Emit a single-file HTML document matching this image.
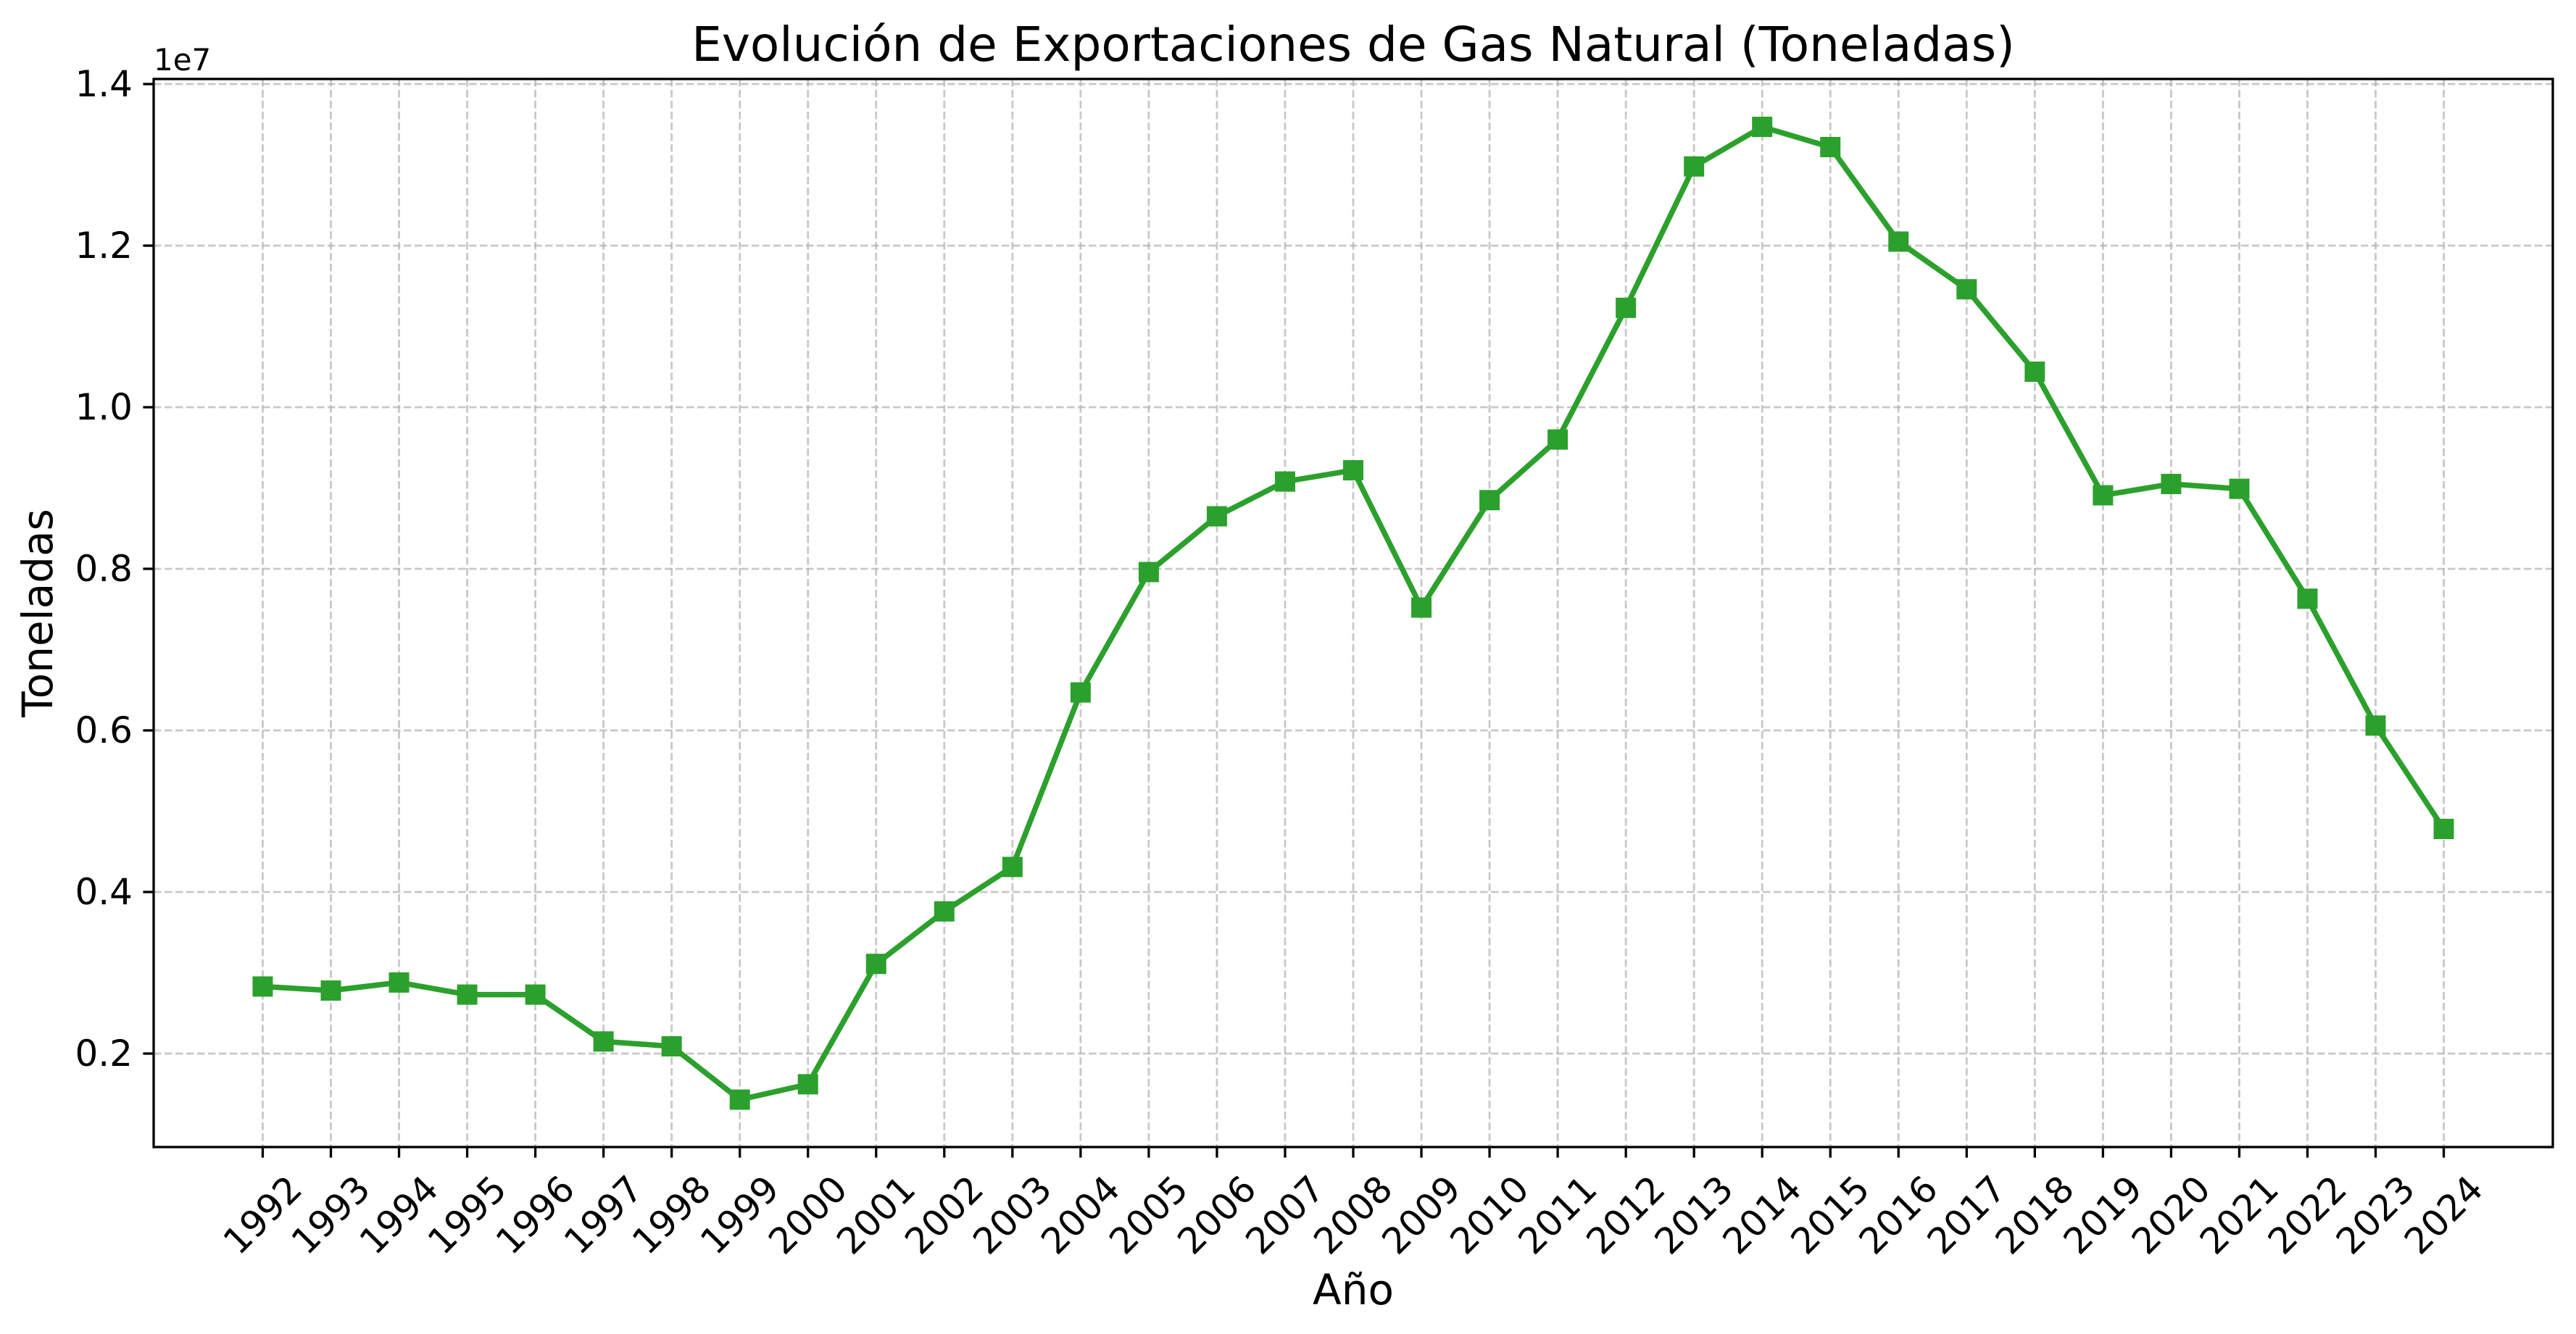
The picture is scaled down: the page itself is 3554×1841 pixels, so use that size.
<!DOCTYPE html>
<html><head><meta charset="utf-8"><style>
html,body{margin:0;padding:0;background:#fff;}
svg{display:block;font-family:"DejaVu Sans","Liberation Sans",sans-serif;}
</style></head><body>
<svg id="chart" width="3554" height="1841" viewBox="0 0 3554 1841" xmlns="http://www.w3.org/2000/svg">
<rect width="3554" height="1841" fill="#fff"/>
<g id="grid"></g>
<g id="series"></g>
<rect x="212" y="109" width="3310" height="1474" fill="none" stroke="#000" stroke-width="3.3"/>
<g id="ticks"></g>
<text x="1867" y="84" font-size="66" text-anchor="middle">Evolución de Exportaciones de Gas Natural (Toneladas)</text>
<text x="1867" y="1800" font-size="58" text-anchor="middle">Año</text>
<text transform="translate(72,846) rotate(-90)" font-size="58" text-anchor="middle">Toneladas</text>
<text x="212" y="97" font-size="42">1e7</text>
</svg>
<script>
const years = [1992,1993,1994,1995,1996,1997,1998,1999,2000,2001,2002,2003,2004,2005,2006,2007,2008,2009,2010,2011,2012,2013,2014,2015,2016,2017,2018,2019,2020,2021,2022,2023,2024];
const exports = [2.83,2.78,2.88,2.73,2.73,2.15,2.09,1.43,1.62,3.11,3.76,4.31,6.47,7.96,8.65,9.08,9.22,7.52,8.85,9.60,11.23,12.98,13.47,13.22,12.05,11.46,10.44,8.91,9.05,8.99,7.63,6.06,4.78];
const yTicks = [0.2,0.4,0.6,0.8,1.0,1.2,1.4];
const yTickLabels = ["0.2","0.4","0.6","0.8","1.0","1.2","1.4"];

const NS="http://www.w3.org/2000/svg";
const L=212,R=3522,T=109,B=1583;
const x0=years[0]-1.6, x1=years[years.length-1]+1.6;
function sx(v){return L+(v-x0)/(x1-x0)*(R-L);}
function sy(m){return 1454-(m-2)*111.5;}
function el(tag,attrs,parent){const e=document.createElementNS(NS,tag);for(const k in attrs)e.setAttribute(k,attrs[k]);parent.appendChild(e);return e;}
const grid=document.getElementById('grid'),ticks=document.getElementById('ticks'),series=document.getElementById('series');
const gs={stroke:'#b0b0b0','stroke-opacity':'0.7','stroke-width':'2.8','stroke-dasharray':'10.5,4.5'};
years.forEach((yr)=>{
  const x=sx(yr);
  const g=el('line',Object.assign({x1:x,x2:x,y1:T,y2:B},gs),grid);
  
  
  const t=el('line',{x1:x,x2:x,y1:B,y2:B+14.6,stroke:'#000','stroke-width':3.3},ticks);
  
  
  const lb=el('text',{transform:`translate(${x},1677) rotate(-45)`,'font-size':50,'text-anchor':'middle','dominant-baseline':'central'},ticks);
  lb.textContent=yr;
  
  
});
yTicks.forEach((v,i)=>{
  const y=sy(v*10);
  const g=el('line',Object.assign({x1:L,x2:R,y1:y,y2:y},gs),grid);
  
  
  const t=el('line',{x1:L-14.6,x2:L,y1:y,y2:y,stroke:'#000','stroke-width':3.3},ticks);
  
  
  const lb=el('text',{x:L-29,y:y,'font-size':50,'text-anchor':'end','dominant-baseline':'central'},ticks);
  lb.textContent=yTickLabels[i];
  
  
});
const pts=years.map((yr,i)=>sx(yr)+','+sy(exports[i])).join(' ');
const line=el('polyline',{points:pts,fill:'none',stroke:'#2ca02c','stroke-width':7.5,'stroke-linejoin':'round'},series);


years.forEach((yr,i)=>{
  const m=el('rect',{x:sx(yr)-14,y:sy(exports[i])-14,width:28,height:28,fill:'#2ca02c'},series);
  
  
});
</script>
</body></html>
